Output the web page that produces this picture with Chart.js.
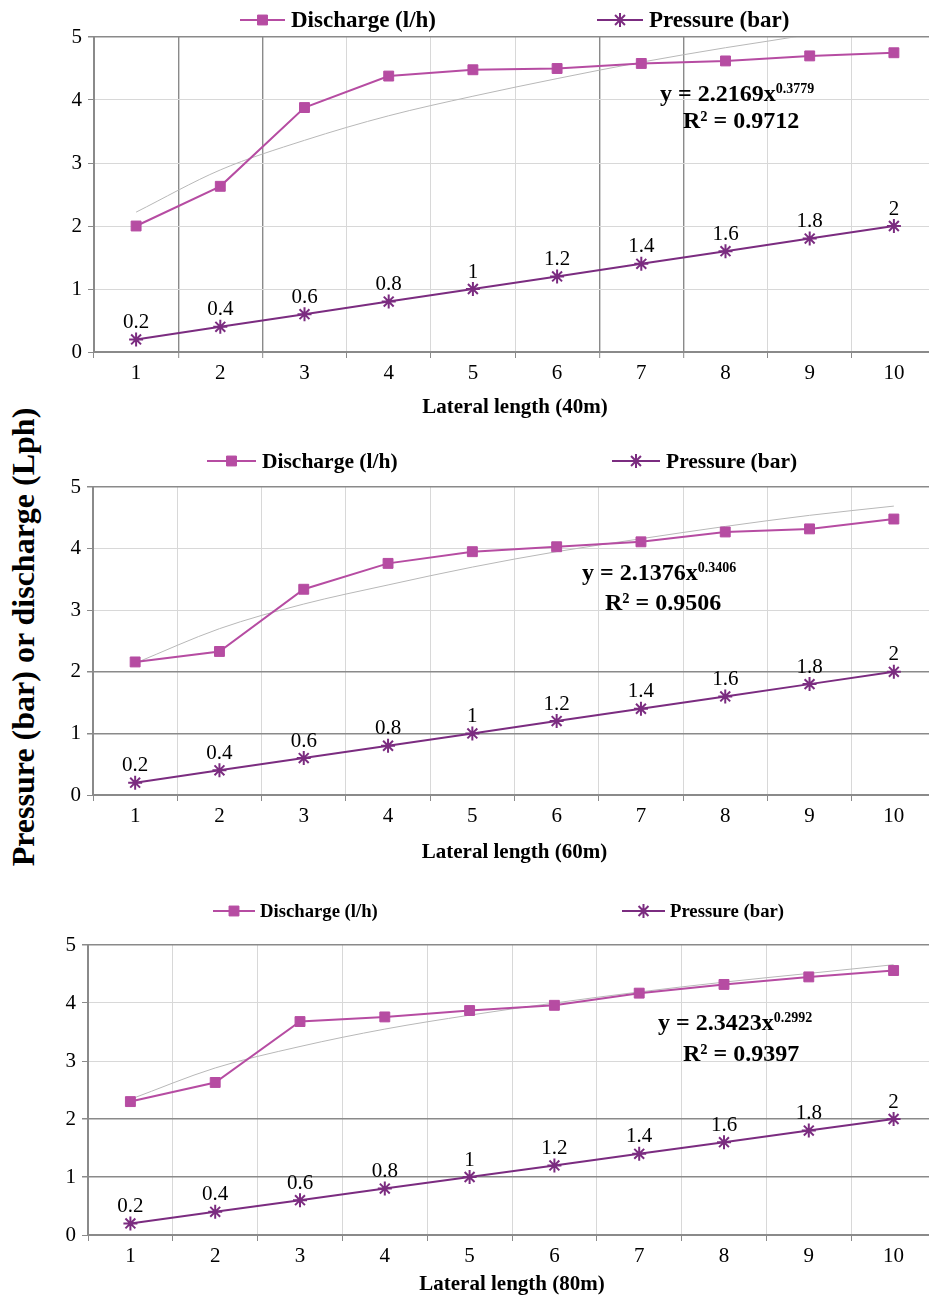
<!DOCTYPE html>
<html>
<head>
<meta charset="utf-8">
<script src="https://cdn.jsdelivr.net/npm/chart.js@4.4.1/dist/chart.umd.min.js"></script>
<style>
html,body{margin:0;padding:0;background:#fff;width:929px;height:1297px;overflow:hidden;position:relative;font-family:"Liberation Serif","Times New Roman",serif;}
.wrap{position:absolute;left:0;width:945px;}
canvas{display:block;}
.eq{position:absolute;font-weight:bold;font-size:24px;line-height:28px;color:#000;white-space:nowrap;}
.eq sup{font-size:14px;font-weight:bold;vertical-align:top;position:relative;top:-4px;}
#ytitle{position:absolute;left:23px;top:637px;transform:translate(-50%,-50%) rotate(-90deg);font-weight:bold;font-size:32px;line-height:36px;white-space:nowrap;color:#000;}
</style>
</head>
<body>
<div id="ytitle">Pressure (bar) or discharge (Lph)</div>
<div class="wrap" style="top:0px;height:420px"><canvas id="c40" width="945" height="420"></canvas></div>
<div class="wrap" style="top:440px;height:430px"><canvas id="c60" width="945" height="430"></canvas></div>
<div class="wrap" style="top:880px;height:417px"><canvas id="c80" width="945" height="417"></canvas></div>

<div class="eq" style="left:660px;top:79px">y = 2.2169x<sup>0.3779</sup></div>
<div class="eq" style="left:683px;top:106px">R² = 0.9712</div>
<div class="eq" style="left:582px;top:558px">y = 2.1376x<sup>0.3406</sup></div>
<div class="eq" style="left:605px;top:588px">R² = 0.9506</div>
<div class="eq" style="left:658px;top:1008px">y = 2.3423x<sup>0.2992</sup></div>
<div class="eq" style="left:683px;top:1039px">R² = 0.9397</div>

<script>
// ---- data ----
const categories = ['1','2','3','4','5','6','7','8','9','10'];
const yTickValues = [0, 1, 2, 3, 4, 5];

const discharge40 = [2.00, 2.63, 3.88, 4.38, 4.48, 4.50, 4.58, 4.62, 4.70, 4.75];
const pressure40  = [0.2, 0.4, 0.6, 0.8, 1, 1.2, 1.4, 1.6, 1.8, 2];
const trend40     = [2.22, 2.89, 3.36, 3.75, 4.06, 4.34, 4.60, 4.83, 5.04, 5.29];

const discharge60 = [2.16, 2.33, 3.34, 3.76, 3.95, 4.03, 4.11, 4.27, 4.32, 4.48];
const pressure60  = [0.2, 0.4, 0.6, 0.8, 1, 1.2, 1.4, 1.6, 1.8, 2];
const trend60     = [2.14, 2.70, 3.10, 3.41, 3.70, 3.95, 4.16, 4.36, 4.54, 4.69];

const discharge80 = [2.30, 2.63, 3.68, 3.76, 3.87, 3.96, 4.17, 4.32, 4.45, 4.56];
const pressure80  = [0.2, 0.4, 0.6, 0.8, 1, 1.2, 1.4, 1.6, 1.8, 2];
const trend80     = [2.34, 2.88, 3.25, 3.55, 3.79, 4.00, 4.19, 4.36, 4.51, 4.66];

const seriesNames = ['Discharge (l/h)', 'Pressure (bar)'];
const xTitles = ['Lateral length (40m)', 'Lateral length (60m)', 'Lateral length (80m)'];

// ---- styles ----
const FONT = '"Liberation Serif","Times New Roman",serif';
const DIS_COLOR = '#b64ca2';
const PRE_COLOR = '#7b2c80';
const TREND_COLOR = '#b8b8b8';
const DARK = '#8a8a8a';
const LIGHT = '#d8d8d8';

const legendPlugin = {
  id: 'placedLegend',
  afterDraw(chart, args, opts) {
    const ctx = chart.ctx;
    ctx.save();
    opts.items.forEach(it => {
      const ds = chart.data.datasets[it.dataset];
      ctx.strokeStyle = ds.borderColor;
      ctx.lineWidth = 2;
      ctx.beginPath();
      ctx.moveTo(it.x1, opts.y);
      ctx.lineTo(it.x2, opts.y);
      ctx.stroke();
      ctx.fillStyle = ds.pointBackgroundColor;
      ctx.strokeStyle = ds.pointBorderColor;
      ctx.lineWidth = ds.pointBorderWidth;
      Chart.helpers.drawPoint(ctx, {pointStyle: ds.pointStyle, radius: ds.pointRadius, borderWidth: ds.pointBorderWidth, rotation: 0}, (it.x1 + it.x2) / 2, opts.y);
      ctx.fillStyle = '#000';
      ctx.font = 'bold ' + opts.size + 'px ' + FONT;
      ctx.textAlign = 'left';
      ctx.textBaseline = 'middle';
      ctx.fillText(ds.label, it.tx, opts.y + 1);
    });
    ctx.restore();
  }
};

const valueLabelPlugin = {
  id: 'valueLabels',
  afterDatasetsDraw(chart, args, opts) {
    const ctx = chart.ctx;
    ctx.save();
    ctx.font = opts.size + 'px ' + FONT;
    ctx.fillStyle = '#000';
    ctx.textAlign = 'center';
    ctx.textBaseline = 'middle';
    chart.data.datasets.forEach((ds, i) => {
      if (!ds.valueLabels) return;
      const meta = chart.getDatasetMeta(i);
      meta.data.forEach((pt, j) => {
        ctx.fillText(String(ds.data[j]), pt.x, pt.y - opts.offset);
      });
    });
    ctx.restore();
  }
};

const panels = [
  {id:'c40', discharge:discharge40, pressure:pressure40, trend:trend40, title:xTitles[0],
   padTop:37, padRight:8, axisW:94, axisH:68, titlePad:0, darkX:[1,2,6,7], darkY:[5],
   legend:{y:20, size:23, items:[{dataset:0,x1:240,x2:285,tx:291},{dataset:1,x1:597,x2:643,tx:649}]}},
  {id:'c60', discharge:discharge60, pressure:pressure60, trend:trend60, title:xTitles[1],
   padTop:47, padRight:8, axisW:93, axisH:75, titlePad:5, darkX:[], darkY:[1,2,5],
   legend:{y:21, size:21.5, items:[{dataset:0,x1:207,x2:256,tx:262},{dataset:1,x1:612,x2:660,tx:666}]}},
  {id:'c80', discharge:discharge80, pressure:pressure80, trend:trend80, title:xTitles[2],
   padTop:65, padRight:4, axisW:88, axisH:62, titlePad:0, darkX:[], darkY:[1,2,5],
   legend:{y:31, size:18.7, items:[{dataset:0,x1:213,x2:255,tx:260},{dataset:1,x1:622,x2:665,tx:670}]}}
];

panels.forEach(p => {
  new Chart(document.getElementById(p.id), {
    type: 'line',
    data: {
      labels: categories,
      datasets: [
        {label: seriesNames[0], data: p.discharge, borderColor: DIS_COLOR, borderWidth: 2,
         pointStyle: 'rect', pointRadius: 7, pointBackgroundColor: DIS_COLOR, pointBorderColor: DIS_COLOR,
         pointBorderWidth: 1, tension: 0, fill: false},
        {label: seriesNames[1], data: p.pressure, borderColor: PRE_COLOR, borderWidth: 2,
         pointStyle: 'star', pointRadius: 7, pointBackgroundColor: PRE_COLOR, pointBorderColor: PRE_COLOR,
         pointBorderWidth: 2, tension: 0, fill: false, valueLabels: true},
        {label: 'Trend', data: p.trend, borderColor: TREND_COLOR, borderWidth: 1,
         pointRadius: 0, cubicInterpolationMode: 'monotone', fill: false}
      ]
    },
    options: {
      responsive: false,
      animation: false,
      devicePixelRatio: 1,
      events: [],
      layout: {padding: {top: p.padTop, right: p.padRight, left: 0, bottom: 0}},
      plugins: {
        legend: {display: false},
        tooltip: {enabled: false},
        placedLegend: p.legend,
        valueLabels: {offset: 17, size: 21}
      },
      scales: {
        x: {
          type: 'category',
          offset: true,
          grid: {
            offset: true,
            color: c => p.darkX.includes(c.index) ? DARK : LIGHT,
            lineWidth: c => p.darkX.includes(c.index) ? 1.4 : 1,
            drawTicks: true, tickLength: 6, tickColor: DARK, tickWidth: 1
          },
          border: {color: DARK, width: 2},
          ticks: {font: {family: FONT, size: 21}, color: '#000', padding: 3, maxRotation: 0, autoSkip: false},
          title: {display: true, text: p.title, color: '#000',
                  font: {family: FONT, size: 21, weight: 'bold'}, padding: {top: 0, bottom: p.titlePad}},
          afterFit: s => { s.height = p.axisH; }
        },
        y: {
          min: 0, max: 5,
          afterBuildTicks: s => { s.ticks = yTickValues.map(v => ({value: v})); },
          ticks: {font: {family: FONT, size: 21}, color: '#000', padding: 6},
          grid: {
            color: c => (c.tick && p.darkY.includes(c.tick.value)) ? DARK : LIGHT,
            lineWidth: c => (c.tick && p.darkY.includes(c.tick.value)) ? 1.5 : 1,
            drawTicks: true, tickLength: 6, tickColor: DARK
          },
          border: {color: DARK, width: 2},
          afterFit: s => { s.width = p.axisW; }
        }
      }
    },
    plugins: [legendPlugin, valueLabelPlugin]
  });
});
</script>
</body>
</html>
